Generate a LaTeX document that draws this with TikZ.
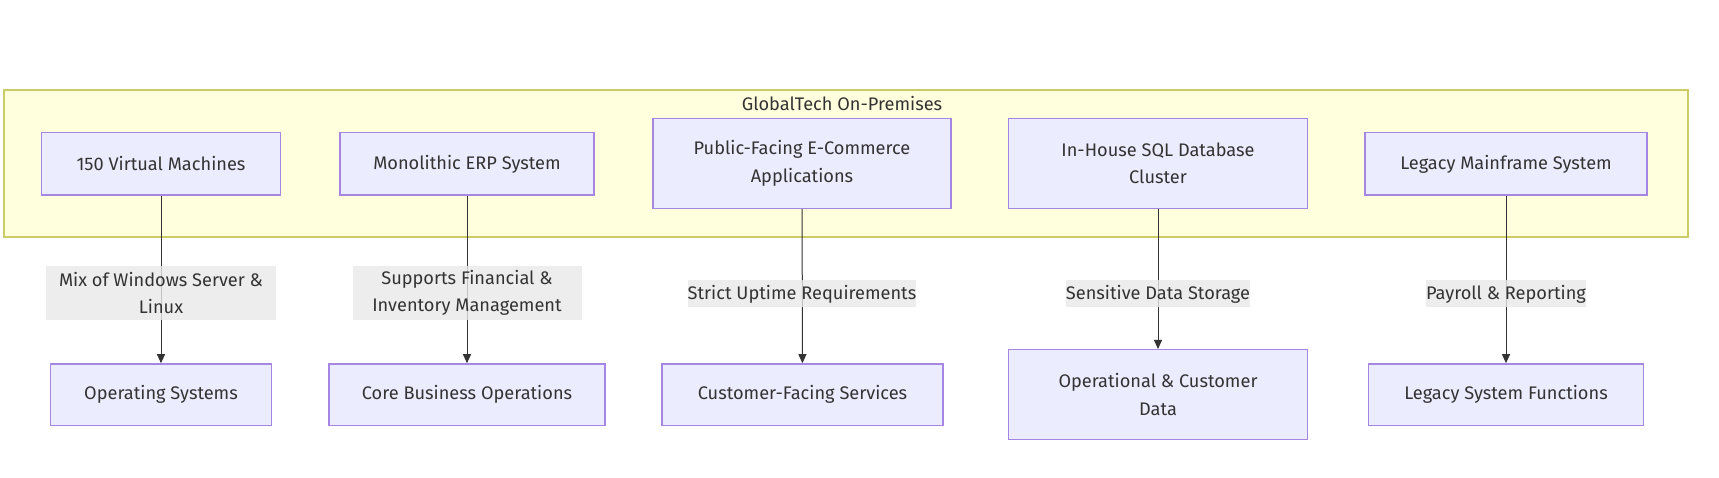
\documentclass[tikz,border=0pt]{standalone}
\usepackage{fontspec}
\setmainfont{Fira Sans}
\usetikzlibrary{arrows.meta}

\begin{document}
\begin{tikzpicture}[x=1pt, y=-1pt]
    \definecolor{borderColour}{HTML}{A587E3}
    \definecolor{fillColourBox}{HTML}{ECECFF}
    \definecolor{fillColourCluster}{HTML}{FFFFDE}
    \definecolor{borderColourCluster}{HTML}{CCCC66}
    \definecolor{textColour}{HTML}{333333}
    \definecolor{fillColourLabel}{HTML}{E8E8E8}

    \tikzset{
        every node/.style={text=textColour, font=\fontsize{18.2}{27.5}\selectfont},
        box/.style={draw=borderColour, fill=fillColourBox, line width=1.5pt, align=center, inner sep=0pt},
        cluster/.style={draw=borderColourCluster, fill=fillColourCluster, line width=1.5pt, inner sep=0pt},
        edgelabel/.style={fill=fillColourLabel, fill opacity=0.8, text opacity=1, align=center, inner sep=0pt},
        link/.style={draw=textColour, line width=1pt, -{Triangle[length=9pt, width=8pt]}}
    }

    \def\boxH{62.5}
    \def\tallH{90}

    \useasboundingbox (0,0) rectangle (1719,478);

    % Cluster
    \node[cluster, minimum width=1683.6pt, minimum height=147pt] (onprem) at (846,163.5) {};
    \node (onpremtitle) at (842,104) {GlobalTech On-Premises};

    % Top row
    \node[box, minimum width=239pt, minimum height=\boxH pt] (vm) at (161,164) {150 Virtual Machines};
    \node[box, minimum width=254pt, minimum height=\boxH pt] (erp) at (467,164) {Monolithic ERP System};
    \node[box, minimum width=298pt, minimum height=\tallH pt] (shop) at (802,163.5) {Public-Facing E-Commerce\\Applications};
    \node[box, minimum width=299pt, minimum height=\tallH pt] (sqldb) at (1158,163.5) {In-House SQL Database\\Cluster};
    \node[box, minimum width=282pt, minimum height=\boxH pt] (mainframe) at (1506,164) {Legacy Mainframe System};

    % Bottom row
    \node[box, minimum width=221pt, minimum height=61.5pt] (os) at (161,394.7) {Operating Systems};
    \node[box, minimum width=276pt, minimum height=61.5pt] (coreops) at (467,394.7) {Core Business Operations};
    \node[box, minimum width=281pt, minimum height=61.5pt] (custsvc) at (802.5,394.7) {Customer-Facing Services};
    \node[box, minimum width=299pt, minimum height=\tallH pt] (custdata) at (1158,394.7) {Operational \& Customer\\Data};
    \node[box, minimum width=275pt, minimum height=61.5pt] (legacyfn) at (1506,394.7) {Legacy System Functions};

    % Links
    \draw[link] (vm) -- (os);
    \draw[link] (erp) -- (coreops);
    \draw[link] (shop) -- (custsvc);
    \draw[link] (sqldb) -- (custdata);
    \draw[link] (mainframe) -- (legacyfn);

    % Link labels
    \node[edgelabel, minimum width=230pt, minimum height=54pt] (lblvm) at (161,293) {Mix of Windows Server \&\\Linux};
    \node[edgelabel, minimum width=229pt, minimum height=54pt] (lblerp) at (467,293) {Supports Financial \&\\Inventory Management};
    \node[edgelabel, minimum height=27pt] (lblshop) at (802,294) {Strict Uptime Requirements};
    \node[edgelabel, minimum height=27pt] (lblsqldb) at (1158,294) {Sensitive Data Storage};
    \node[edgelabel, minimum height=27pt] (lblmainframe) at (1506,294) {Payroll \& Reporting};

\end{tikzpicture}
\end{document}
